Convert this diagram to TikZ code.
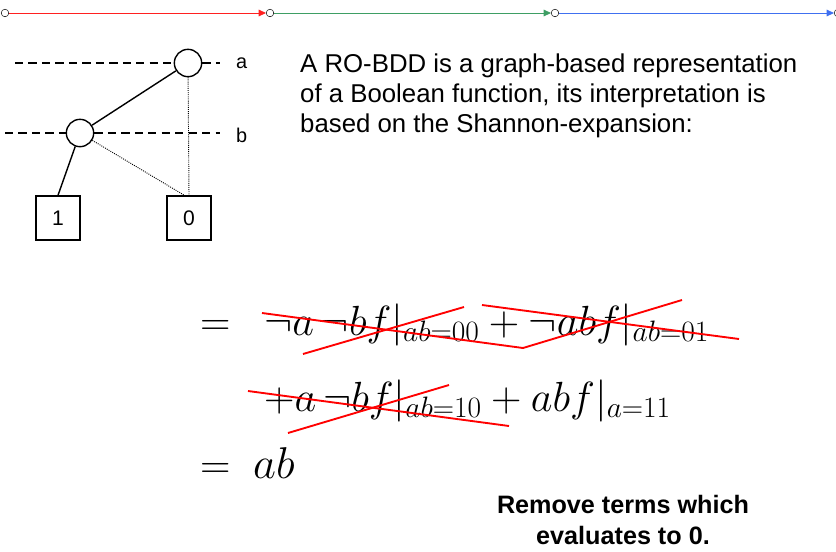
\documentclass[tikz,border=0pt]{standalone}
\usepackage{fix-cm}
\usepackage{fontspec}
\setmainfont{Liberation Sans}
\usetikzlibrary{arrows.meta,positioning}
\definecolor{redline}{HTML}{FF2020}
\definecolor{greenline}{HTML}{3E9E64}
\definecolor{blueline}{HTML}{4070F0}
\definecolor{strike}{HTML}{FF0000}

\begin{document}
\begin{tikzpicture}[x=0.03cm,y=-0.03cm,
        dot/.style={draw,circle,inner sep=0pt,minimum size=6.5pt,fill=white},
        track/.style={-{Triangle[length=2.2mm,width=2mm]},line width=0.7pt},
        bddnode/.style={draw,circle,line width=1.2pt,minimum size=0.82cm,inner sep=0pt},
        leaf/.style={draw,line width=1.2pt,minimum size=1.32cm,inner sep=0pt,font=\fontsize{18}{20}\selectfont},
        level/.style={line width=1.2pt,dash pattern=on 7pt off 4.5pt},
        varlbl/.style={font=\fontsize{17}{20}\selectfont},
        eqn/.style={anchor=base west,font=\fontsize{36}{42}\selectfont},
        cross/.style={draw=strike,line width=1.6pt}
      ]
        \useasboundingbox (0,0) rectangle (836,551);
        % progress line
        \node[dot] (t0) at (5,13) {};
        \node[dot] (t1) at (270,13) {};
        \node[dot] (t2) at (555,13) {};
        \node[dot] (t3) at (838,13) {};
        \draw[track,draw=redline] (t0) -- (t1);
        \draw[track,draw=greenline] (t1) -- (t2);
        \draw[track,draw=blueline] (t2) -- (t3);

        % the BDD
        \node[bddnode] (na) at (188,63) {};
        \node[bddnode] (nb) at (80,133) {};
        \node[leaf] (one) at (58,218) {1};
        \node[leaf] (zero) at (189,218) {0};
        \coordinate (al) at (15,63);
        \coordinate (ar) at (220,63);
        \coordinate (bl) at (5,133);
        \coordinate (br) at (220,133);
        \node[varlbl,anchor=west] (la) at (232,63) {a};
        \node[varlbl,anchor=west] (lb) at (232,135) {b};
        \draw[level] (al) -- (na.west);
        \draw[level] (na.east) -- (ar);
        \draw[level] (bl) -- (nb.west);
        \draw[level] (nb.east) -- (br);
        \draw[line width=1.2pt] (na) -- (nb);
        \draw[line width=1.2pt] (nb) -- (one.north);
        \draw[densely dotted,thick] (nb) -- ([xshift=-4]zero.north);
        \draw[densely dotted,thick] (na) -- (zero.north);

        \node[anchor=north west,align=left,font=\fontsize{22}{25.6}\selectfont,inner sep=0pt]
          (intro) at (300,54) {A RO-BDD is a graph-based representation\\
          of a Boolean function, its interpretation is\\
          based on the Shannon-expansion:};

        % expansion
        \node[eqn] (eq1) at (196,335) {$=$};
        \node[eqn] (lineA) at (260,335) {$\neg a\,\neg bf|_{ab=00}+\neg abf|_{ab=01}$};
        \node[eqn] (lineB) at (260,411) {$+a\,\neg bf|_{ab=10}+abf|_{a=11}$};
        \node[eqn] (eq2) at (196,478) {$=$};
        \node[eqn,font=\fontsize{38}{44}\selectfont] (res) at (249,478) {$ab$};

        % crossed out terms
        \draw[cross] (262,313) -- (523,348) -- (682,300);
        \draw[cross] (303,354) -- (464,307);
        \draw[cross] (482,305) -- (739,339);
        \draw[cross] (248,391) -- (509,426);
        \draw[cross] (288,433) -- (449,385);

        \node[align=center,inner sep=0pt,font=\bfseries\fontsize{21.5}{27}\selectfont] (note)
          at (623,520) {Remove terms which\\evaluates to 0.};
      \end{tikzpicture}
\end{document}
